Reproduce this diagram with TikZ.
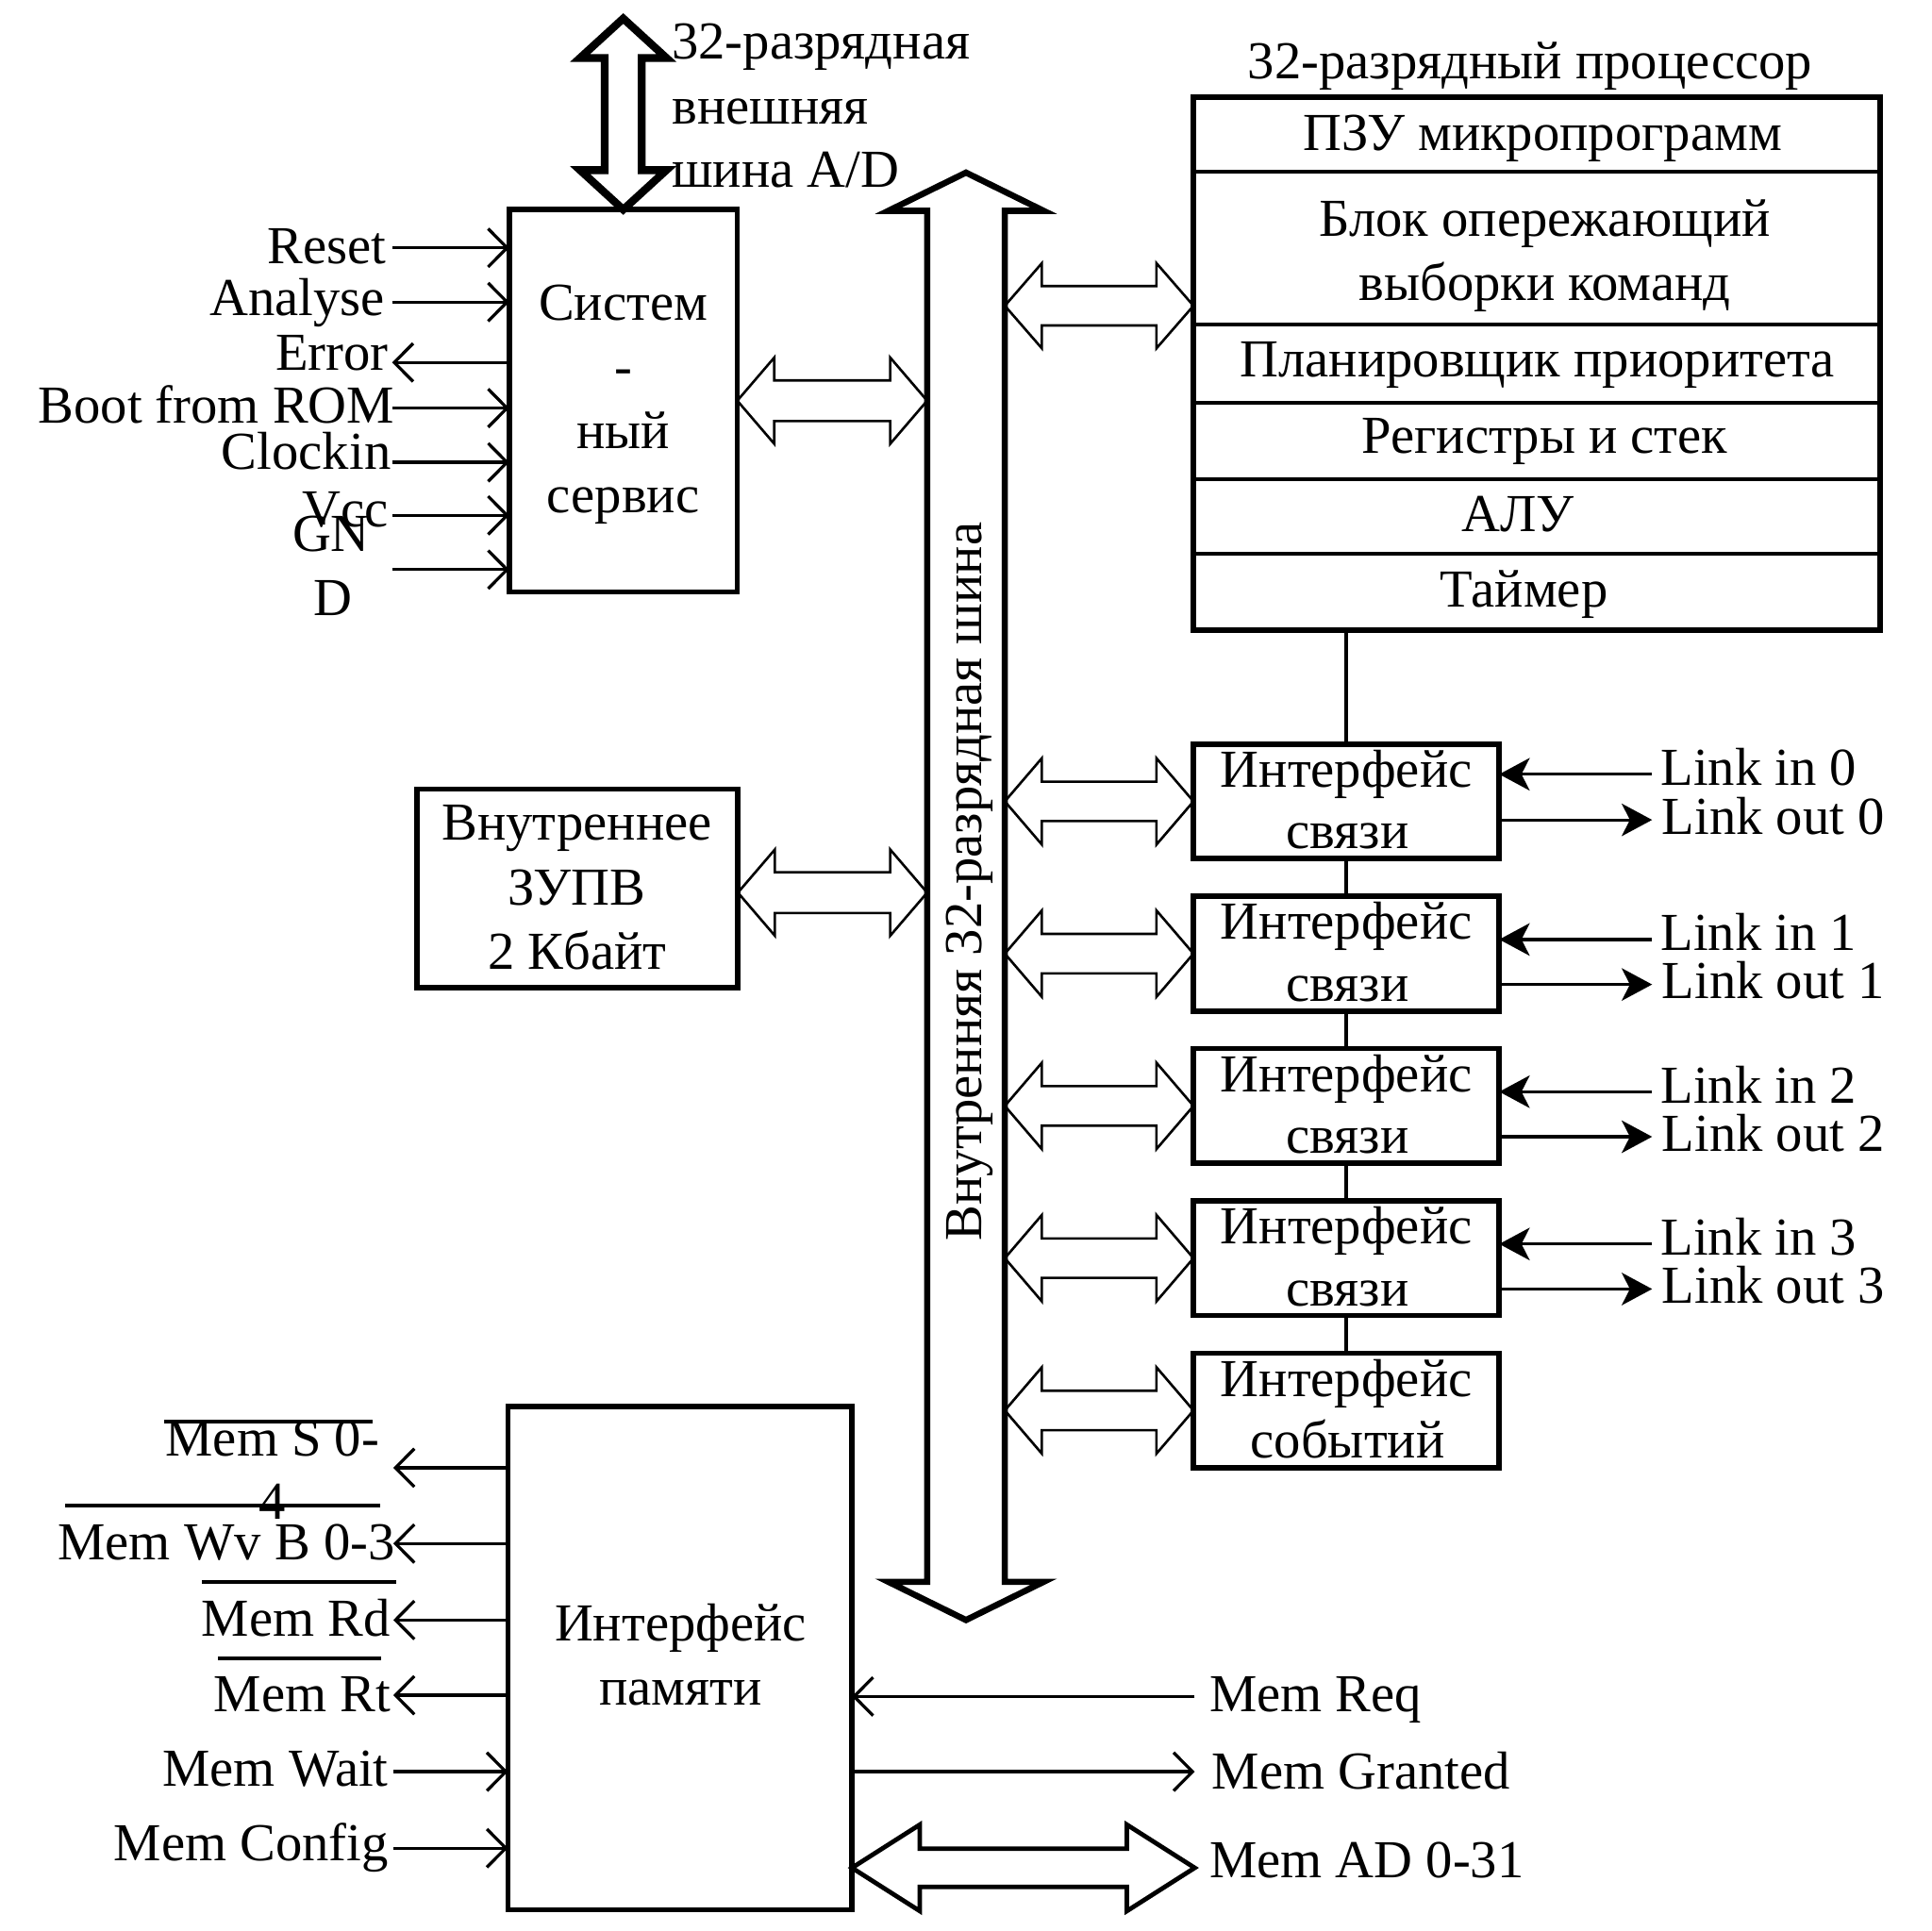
\documentclass[tikz,border=0pt]{standalone}
\usepackage{fontspec}
\setmainfont{Liberation Serif}
\usetikzlibrary{arrows.meta,calc}

\tikzset{
  box/.style={draw, line width=1.3pt, inner sep=0pt, outer sep=0pt, rectangle},
  txt/.style={inner sep=0pt, outer sep=0pt, anchor=base},
  sig/.style={line width=0.75pt},
  openhead/.style={-{Straight Barb[length=4.6pt,width=9.3pt]}},
  solidhead/.style={-{Stealth[length=7.4pt,width=7.9pt,inset=2pt]}},
  hollow/.style={draw, line width=0.6pt, line join=miter},
  conn/.style={line width=0.9pt},
  divider/.style={line width=0.9pt},
  overbar/.style={line width=0.9pt},
}

% horizontal hollow double arrow: [style] {left point}{right point}{head length}{head half width}{shaft half width}
\newcommand\hdarr[6][]{%
  \draw[hollow,#1] (#2) -- ($(#2)+(#4,-#5)$) -- ($(#2)+(#4,-#6)$) -- ($(#3)+(-#4,-#6)$)
    -- ($(#3)+(-#4,-#5)$) -- (#3) -- ($(#3)+(-#4,#5)$) -- ($(#3)+(-#4,#6)$)
    -- ($(#2)+(#4,#6)$) -- ($(#2)+(#4,#5)$) -- cycle;}
% vertical hollow double arrow: [style] {top point}{bottom point}{head length}{head half width}{shaft half width}
\newcommand\vdarr[6][]{%
  \draw[hollow,#1] (#2) -- ($(#2)+(#5,#4)$) -- ($(#2)+(#6,#4)$) -- ($(#3)+(#6,-#4)$)
    -- ($(#3)+(#5,-#4)$) -- (#3) -- ($(#3)+(-#5,-#4)$) -- ($(#3)+(-#6,-#4)$)
    -- ($(#2)+(-#6,#4)$) -- ($(#2)+(-#5,#4)$) -- cycle;}

\begin{document}
\begin{tikzpicture}[x=0.3pt,y=-0.3pt,font=\fontsize{13pt}{15.6pt}\selectfont]
\useasboundingbox (0,0) rectangle (1567,1566);
\fill[white] (0,0) rectangle (1567,1566);

% ---------------- boxes ----------------
\node[box, minimum width=55.5pt, minimum height=93pt] (ser) at (505.5,325) {};
\node[box, minimum width=78.15pt, minimum height=48.3pt] (ram) at (468.25,720.5) {};
\node[box, line width=1.35pt, minimum width=167.1pt, minimum height=129.6pt] (proc) at (1246.5,295) {};
\foreach \i/\yc in {1/650,2/773.5,3/897,4/1020.5,5/1144}
  \node[box, minimum width=74.4pt, minimum height=27.9pt] (if\i) at (1092,\yc) {};
\node[box, minimum width=83.7pt, minimum height=122.4pt] (mem) at (551.5,1345) {};

% processor row dividers
\foreach \yy in {139,263,327,389,449} {
  \coordinate (dv) at (0,\yy);
  \draw[divider] (proc.west |- dv) -- (proc.east |- dv);
}

% chain between processor and interfaces
\draw[conn] (if1.north |- proc.south) -- (if1.north);
\draw[conn] (if1.south) -- (if2.north);
\draw[conn] (if2.south) -- (if3.north);
\draw[conn] (if3.south) -- (if4.north);
\draw[conn] (if4.south) -- (if5.north);

% ---------------- buses ----------------
\coordinate (extT) at (505.5,15);
\vdarr[line width=1.9pt]{extT}{ser.north}{32}{35}{15}
\coordinate (busT) at (783.5,140);
\coordinate (busB) at (783.5,1314);
\vdarr[line width=1.5pt]{busT}{busB}{31}{63}{31.5}
\coordinate (busW) at (752,0);
\coordinate (busE) at (815,0);

\node[txt, rotate=90] (bustxt) at (796,715) {Внутренняя 32-разрядная шина};

% ---------------- hollow double arrows ----------------
\hdarr{ser.east}{ser.east -| busW}{30}{35}{16.5}
\coordinate (ramA) at (598.5,724);
\hdarr{ramA}{ramA -| busW}{30}{35}{16.5}
\coordinate (procA) at (968,248);
\hdarr{procA -| busE}{procA}{30}{34.5}{16}
\foreach \i in {1,...,5}
  \hdarr{if\i.west -| busE}{if\i.west}{30}{35}{16}
\coordinate (mAD) at (969,1515);
\hdarr[line width=1.1pt]{mAD -| mem.east}{mAD}{55}{35}{15.5}

% ---------------- external bus label ----------------
\node[txt, anchor=base west] (ext1) at (545,47.8) {32-разрядная};
\node[txt, anchor=base west] (ext2) at (545,100.8) {внешняя};
\node[txt, anchor=base west] (ext3) at (545,152) {шина A/D};

% ---------------- system service ----------------
\node[txt] (st1) at (505.5,260) {Систем};
\node[txt] (st2) at (505.5,312) {-};
\node[txt] (st3) at (505.5,364) {ный};
\node[txt] (st4) at (505.5,416) {сервис};

\foreach \n/\yy in {Reset/201,Analyse/245,Boot/331,Clock/375,Vcc/418,Gnd/462} {
  \coordinate (s\n) at (318,\yy);
  \draw[sig, openhead] (s\n) -- (s\n -| ser.west);
}
\coordinate (sError) at (318,294);
\draw[sig, openhead] (sError -| ser.west) -- (sError);

\node[txt, anchor=base east] (lReset) at (313,214) {Reset};
\node[txt, anchor=base east] (lAnalyse) at (312,256) {Analyse};
\node[txt, anchor=base east] (lError) at (315,300) {Error};
\node[txt, anchor=base east] (lBoot) at (320,343) {Boot from ROM};
\node[txt, anchor=base east] (lClock) at (317,381) {Clockin};
\node[txt, anchor=base east] (lVcc) at (315,427) {Vcc};
\node[txt] (lGnd1) at (268.5,447) {GN};
\node[txt] (lGnd2) at (270,499) {D};

% ---------------- RAM ----------------
\node[txt] (rt1) at (468,681) {Внутреннее};
\node[txt] (rt2) at (468,734) {ЗУПВ};
\node[txt] (rt3) at (468,786) {2 Кбайт};

% ---------------- processor ----------------
\node[txt] (ptitle) at (1241,64) {32-разрядный процессор};
\node[txt] (p1) at (1251,122) {ПЗУ микропрограмм};
\node[txt] (p2a) at (1253,192) {Блок опережающий};
\node[txt] (p2b) at (1253,244) {выборки команд};
\node[txt] (p3) at (1247,306) {Планировщик приоритета};
\node[txt] (p4) at (1253,368) {Регистры и стек};
\node[txt] (p5) at (1231,431) {АЛУ};
\node[txt] (p6) at (1236,492) {Таймер};

% ---------------- interfaces ----------------
\foreach \i in {1,...,4} {
  \node[txt] (it\i a) at ($(if\i.north)+(0,35)$) {Интерфейс};
  \node[txt] (it\i b) at ($(if\i.north)+(1,85)$) {связи};
}
\node[txt] (it5a) at ($(if5.north)+(0,35)$) {Интерфейс};
\node[txt] (it5b) at ($(if5.north)+(1,85)$) {событий};

\foreach \i/\k/\di/\do in {1/0/24.5/61.5,2/1/35/71.5,3/2/35/71.5,4/3/35/71.5} {
  \coordinate (lin\k) at ($(if\i.north east)+(124,\di)$);
  \coordinate (lout\k) at ($(if\i.north east)+(124,\do)$);
  \draw[sig, solidhead] (lin\k) -- (lin\k -| if\i.east);
  \draw[sig, solidhead] (lout\k -| if\i.east) -- (lout\k);
  \node[txt, anchor=base west] (llin\k) at ($(lin\k)+(7,9)$) {Link in \k};
  \node[txt, anchor=base west] (llout\k) at ($(lout\k)+(8,11.5)$) {Link out \k};
}

% ---------------- memory interface ----------------
\node[txt] (mt1) at (552,1331) {Интерфейс};
\node[txt] (mt2) at (552,1383) {памяти};

\foreach \n/\yy in {S/1190.5,Wv/1252,Rd/1314,Rt/1375} {
  \coordinate (m\n) at (319,\yy);
  \draw[sig, openhead] (m\n -| mem.west) -- (m\n);
}
\foreach \n/\yy in {Wait/1437,Config/1499} {
  \coordinate (m\n) at (319,\yy);
  \draw[sig, openhead] (m\n) -- (m\n -| mem.west);
}

\node[txt] (lmS1) at (221,1181) {Mem S 0-};
\node[txt] (lmS2) at (221,1232) {4};
\node[txt, anchor=base west] (lmWv) at (47,1265) {Mem Wv B 0-3};
\node[txt, anchor=base west] (lmRd) at (163.5,1327) {Mem Rd};
\node[txt, anchor=base west] (lmRt) at (173.5,1388) {Mem Rt};
\node[txt, anchor=base east] (lmWait) at (315,1449) {Mem Wait};
\node[txt, anchor=base east] (lmConfig) at (315,1509) {Mem Config};

% overbars
\draw[overbar] (133,1153) -- (302,1153);
\draw[overbar] (53,1221) -- (308,1221);
\draw[overbar] (164,1283) -- (321,1283);
\draw[overbar] (177,1345) -- (309,1345);

\coordinate (mReq) at (969,1376);
\draw[sig, openhead] (mReq) -- (mReq -| mem.east);
\coordinate (mGr) at (969,1437);
\draw[sig, openhead] (mGr -| mem.east) -- (mGr);

\node[txt, anchor=base west] (lmReq) at (981,1388) {Mem Req};
\node[txt, anchor=base west] (lmGr) at (983,1451) {Mem Granted};
\node[txt, anchor=base west] (lmAD) at (981,1523) {Mem AD 0-31};

\end{tikzpicture}
\end{document}
